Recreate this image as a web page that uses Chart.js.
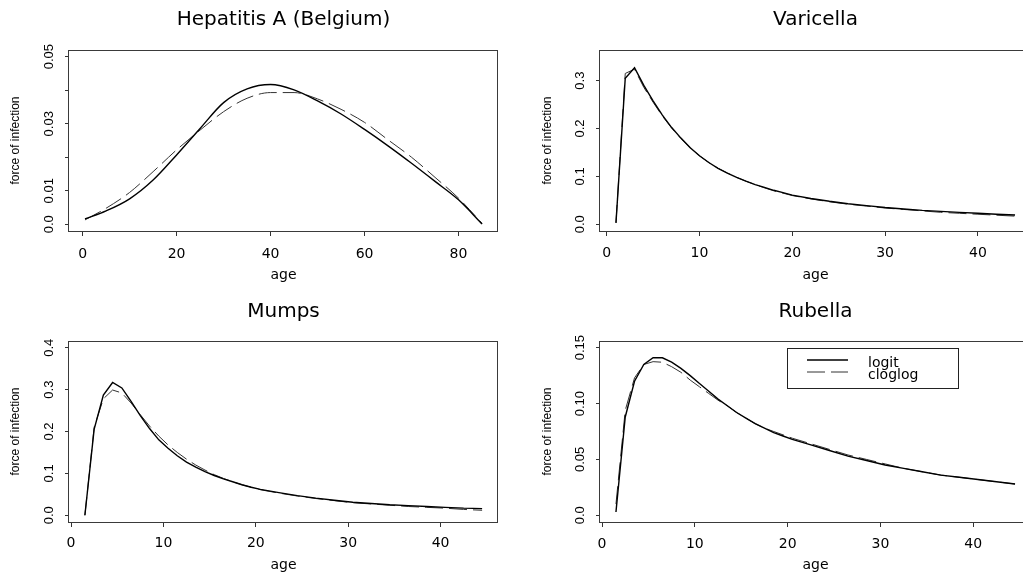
<!DOCTYPE html>
<html>
<head>
<meta charset="utf-8">
<script src="https://cdn.jsdelivr.net/npm/chart.js@4"></script>
<style>
  body { margin: 0; width: 1023px; height: 578px; overflow: hidden; background: #fff; position: relative; }
  canvas { position: absolute; }
</style>
</head>
<body>
<canvas id="hep" width="512" height="289" style="left:0;top:0;width:512px;height:289px"></canvas>
<canvas id="var" width="530" height="289" style="left:511px;top:0;width:530px;height:289px"></canvas>
<canvas id="mumps" width="512" height="289" style="left:0;top:289px;width:512px;height:289px"></canvas>
<canvas id="rub" width="530" height="289" style="left:511px;top:289px;width:530px;height:289px"></canvas>
<script>
// Hepatitis A (Belgium)
const hepAges = [0.5, 5, 10, 15, 20, 25, 30, 35, 40, 45, 50, 55, 60, 65, 70, 75, 80, 85];
const hepLogit = [0.0016, 0.0040, 0.0076, 0.0132, 0.0207, 0.0286, 0.0363, 0.0404, 0.0417, 0.0401, 0.0368, 0.0329, 0.0283, 0.0234, 0.0182, 0.0128, 0.0073, 0.0001];
const hepCloglog = [0.0013, 0.0048, 0.0095, 0.0157, 0.0222, 0.0281, 0.0336, 0.0376, 0.0393, 0.0393, 0.0374, 0.0343, 0.0304, 0.0252, 0.0200, 0.0140, 0.0078, 0.0003];
const hepXTicks = [0, 20, 40, 60, 80];
const hepYTicks = [0, 0.01, 0.02, 0.03, 0.04, 0.05];
const hepYLabels = ['0.0', '0.01', '', '0.03', '', '0.05'];

// Varicella
const varAges = [1, 2, 3, 4, 5, 6, 7, 8, 9, 10, 11, 12, 13, 14, 15, 16, 17, 18, 19, 20, 22, 24, 26, 28, 30, 32, 34, 36, 38, 40, 42, 44];
const varLogit = [0.003, 0.305, 0.327, 0.290, 0.258, 0.228, 0.202, 0.180, 0.160, 0.143, 0.129, 0.117, 0.107, 0.098, 0.090, 0.083, 0.077, 0.071, 0.066, 0.061, 0.054, 0.048, 0.043, 0.039, 0.035, 0.032, 0.029, 0.027, 0.025, 0.023, 0.021, 0.0195];
const varCloglog = [0.003, 0.315, 0.324, 0.286, 0.255, 0.226, 0.201, 0.179, 0.160, 0.143, 0.129, 0.117, 0.107, 0.098, 0.090, 0.083, 0.076, 0.070, 0.065, 0.060, 0.053, 0.047, 0.042, 0.038, 0.034, 0.031, 0.028, 0.025, 0.023, 0.021, 0.019, 0.017];
const varXTicks = [0, 10, 20, 30, 40];
const varYTicks = [0, 0.1, 0.2, 0.3];
const varYLabels = ['0.0', '0.1', '0.2', '0.3'];

// Mumps
const mumpsAges = [1.5, 2.5, 3.5, 4.5, 5.5, 6.5, 7.5, 8.5, 9.5, 10.5, 11.5, 12.5, 13.5, 14.5, 15.5, 16.5, 17.5, 18.5, 19.5, 20.5, 22.5, 24.5, 26.5, 28.5, 30.5, 32.5, 34.5, 36.5, 38.5, 40.5, 42.5, 44.5];
const mumpsLogit = [0.0, 0.205, 0.287, 0.317, 0.304, 0.272, 0.238, 0.207, 0.180, 0.160, 0.142, 0.127, 0.115, 0.104, 0.095, 0.087, 0.080, 0.073, 0.067, 0.062, 0.054, 0.047, 0.041, 0.036, 0.031, 0.028, 0.025, 0.023, 0.021, 0.019, 0.017, 0.016];
const mumpsCloglog = [0.0, 0.210, 0.278, 0.299, 0.292, 0.268, 0.240, 0.213, 0.189, 0.168, 0.150, 0.134, 0.120, 0.108, 0.097, 0.088, 0.080, 0.073, 0.067, 0.061, 0.053, 0.046, 0.040, 0.035, 0.030, 0.027, 0.024, 0.021, 0.019, 0.017, 0.014, 0.012];
const mumpsXTicks = [0, 10, 20, 30, 40];
const mumpsYTicks = [0, 0.1, 0.2, 0.3, 0.4];
const mumpsYLabels = ['0.0', '0.1', '0.2', '0.3', '0.4'];

// Rubella
const rubAges = [1.5, 2.5, 3.5, 4.5, 5.5, 6.5, 7.5, 8.5, 9.5, 10.5, 11.5, 12.5, 13.5, 14.5, 15.5, 16.5, 17.5, 18.5, 19.5, 20.5, 22.5, 24.5, 26.5, 28.5, 30.5, 32.5, 34.5, 36.5, 38.5, 40.5, 42.5, 44.5];
const rubLogit = [0.003, 0.088, 0.120, 0.135, 0.141, 0.141, 0.137, 0.1315, 0.125, 0.118, 0.111, 0.104, 0.098, 0.092, 0.087, 0.082, 0.078, 0.074, 0.071, 0.068, 0.063, 0.058, 0.053, 0.049, 0.045, 0.042, 0.039, 0.036, 0.034, 0.032, 0.030, 0.028];
const rubCloglog = [0.010, 0.094, 0.123, 0.135, 0.1375, 0.137, 0.133, 0.128, 0.121, 0.115, 0.109, 0.103, 0.098, 0.092, 0.087, 0.082, 0.078, 0.075, 0.072, 0.069, 0.064, 0.059, 0.054, 0.050, 0.046, 0.042, 0.039, 0.036, 0.034, 0.032, 0.030, 0.028];
const rubXTicks = [0, 10, 20, 30, 40];
const rubYTicks = [0, 0.05, 0.10, 0.15];
const rubYLabels = ['0.0', '0.05', '0.10', '0.15'];

const seriesNames = ['logit', 'cloglog'];

// frame round the plot region
const boxPlugin = {
    id: 'box',
    afterDraw(chart) {
        const { ctx, chartArea: a } = chart;
        ctx.save();
        ctx.strokeStyle = '#3a3a3a';
        ctx.lineWidth = 1;
        ctx.strokeRect(Math.round(a.left) - 0.5, Math.round(a.top) + 0.5,
            Math.round(a.right - a.left), Math.round(a.bottom - a.top));
        ctx.restore();
    }
};

// legend box inside the plot (Rubella panel)
const insetLegend = {
    id: 'insetLegend',
    afterDraw(chart, args, opts) {
        if (!opts.show) return;
        const { ctx, chartArea: a } = chart;
        const x = Math.round(a.left + opts.dx), y = Math.round(a.top + opts.dy);
        ctx.save();
        ctx.fillStyle = '#fff';
        ctx.fillRect(x, y, opts.w, opts.h);
        ctx.strokeStyle = '#222';
        ctx.lineWidth = 1;
        ctx.strokeRect(x + 0.5, y + 0.5, opts.w, opts.h);
        chart.data.datasets.forEach((ds, i) => {
            const ly = y + opts.rows[i];
            ctx.strokeStyle = ds.borderColor;
            ctx.lineWidth = ds.borderWidth;
            ctx.setLineDash(ds.borderDash || []);
            ctx.beginPath();
            ctx.moveTo(x + 20, ly);
            ctx.lineTo(x + 61, ly);
            ctx.stroke();
            ctx.setLineDash([]);
            ctx.fillStyle = '#000';
            ctx.font = '14px "DejaVu Sans"';
            ctx.textBaseline = 'middle';
            ctx.fillText(ds.label, x + 81, ly + 3);
        });
        ctx.restore();
    }
};

function points(ages, vals) {
    return ages.map((a, i) => ({ x: a, y: vals[i] }));
}

function makePanel(p) {
    const ctx = document.getElementById(p.id).getContext('2d');
    const smooth = p.smooth ? 'monotone' : 'default';
    return new Chart(ctx, {
        type: 'line',
        data: {
            datasets: [{
                label: seriesNames[0],
                data: points(p.ages, p.logit),
                borderColor: '#000',
                borderWidth: 1.4,
                pointRadius: 0,
                cubicInterpolationMode: smooth,
                tension: 0
            }, {
                label: seriesNames[1],
                data: points(p.ages, p.cloglog),
                borderColor: '#333',
                borderWidth: 1,
                borderDash: [18, 6],
                pointRadius: 0,
                cubicInterpolationMode: smooth,
                tension: 0
            }]
        },
        options: {
            responsive: false,
            animation: false,
            devicePixelRatio: 1,
            layout: { padding: { left: 0, right: p.padRight, top: 0, bottom: 0 } },
            plugins: {
                legend: { display: false },
                tooltip: { enabled: false },
                title: {
                    display: true,
                    text: p.title,
                    fullSize: false,
                    color: '#000',
                    font: { family: 'DejaVu Sans', size: 20, weight: 'normal', lineHeight: 1.2 },
                    padding: p.titlePad
                },
                insetLegend: p.legend || { show: false }
            },
            scales: {
                x: {
                    type: 'linear',
                    min: p.xRange[0],
                    max: p.xRange[1],
                    afterBuildTicks: s => { s.ticks = p.xTicks.map(v => ({ value: v })); },
                    afterFit: s => { s.height = p.xHeight; },
                    border: { display: false },
                    grid: { drawOnChartArea: false, tickLength: 5, color: '#333' },
                    ticks: {
                        color: '#000',
                        font: { family: 'DejaVu Sans', size: 14 },
                        padding: p.xTickPad,
                        maxRotation: 0,
                        autoSkip: false,
                        callback: (v, i) => String(p.xTicks[i])
                    },
                    title: {
                        display: true,
                        text: 'age',
                        color: '#000',
                        font: { family: 'DejaVu Sans', size: 14 },
                        padding: { top: 0, bottom: p.xTitlePad }
                    }
                },
                y: {
                    type: 'linear',
                    min: p.yRange[0],
                    max: p.yRange[1],
                    afterBuildTicks: s => { s.ticks = p.yTicks.map(v => ({ value: v })); },
                    afterFit: s => { s.width = p.yWidth; },
                    border: { display: false },
                    grid: { drawOnChartArea: false, tickLength: 4, color: '#333' },
                    ticks: {
                        color: '#000',
                        font: { family: 'Liberation Sans', size: 13 },
                        minRotation: 90,
                        maxRotation: 90,
                        crossAlign: 'center',
                        padding: p.yTickPad,
                        autoSkip: false,
                        callback: (v, i) => p.yLabels[i]
                    },
                    title: {
                        display: true,
                        text: 'force of infection',
                        color: '#000',
                        font: { family: 'Liberation Sans', size: 12 },
                        padding: { top: p.yTitlePad, bottom: 0 }
                    }
                }
            }
        },
        plugins: [boxPlugin, insetLegend]
    });
}

makePanel({
    id: 'hep', title: 'Hepatitis A (Belgium)',
    ages: hepAges, logit: hepLogit, cloglog: hepCloglog, smooth: true,
    xRange: [-2.9, 88.4], yRange: [-0.002, 0.052],
    xTicks: hepXTicks, yTicks: hepYTicks, yLabels: hepYLabels,
    yWidth: 69, xHeight: 58, padRight: 14,
    titlePad: { top: 7.7, bottom: 18.3 },
    yTickPad: 3.3, xTickPad: 10, yTitlePad: 8.8, xTitlePad: 5.6
});

makePanel({
    id: 'var', title: 'Varicella',
    ages: varAges, logit: varLogit, cloglog: varCloglog, smooth: false,
    xRange: [-0.72, 45.72], yRange: [-0.014, 0.364],
    xTicks: varXTicks, yTicks: varYTicks, yLabels: varYLabels,
    yWidth: 89, xHeight: 58, padRight: 10,
    titlePad: { top: 7.7, bottom: 18.3 },
    yTickPad: 7, xTickPad: 9, yTitlePad: 29.5, xTitlePad: 5.6
});

makePanel({
    id: 'mumps', title: 'Mumps',
    ages: mumpsAges, logit: mumpsLogit, cloglog: mumpsCloglog, smooth: false,
    xRange: [-0.22, 46.22], yRange: [-0.016, 0.416],
    xTicks: mumpsXTicks, yTicks: mumpsYTicks, yLabels: mumpsYLabels,
    yWidth: 69, xHeight: 56, padRight: 14,
    titlePad: { top: 11.2, bottom: 16.8 },
    yTickPad: 7, xTickPad: 8, yTitlePad: 8.8, xTitlePad: 4.6
});

makePanel({
    id: 'rub', title: 'Rubella',
    ages: rubAges, logit: rubLogit, cloglog: rubCloglog, smooth: false,
    xRange: [-0.22, 46.22], yRange: [-0.006, 0.156],
    xTicks: rubXTicks, yTicks: rubYTicks, yLabels: rubYLabels,
    yWidth: 89, xHeight: 56, padRight: 10,
    titlePad: { top: 11.2, bottom: 16.8 },
    yTickPad: 3.3, xTickPad: 9, yTitlePad: 29.5, xTitlePad: 4.6,
    legend: { show: true, dx: 187, dy: 6.5, w: 171, h: 40, rows: [12, 24] }
});
</script>
</body>
</html>
